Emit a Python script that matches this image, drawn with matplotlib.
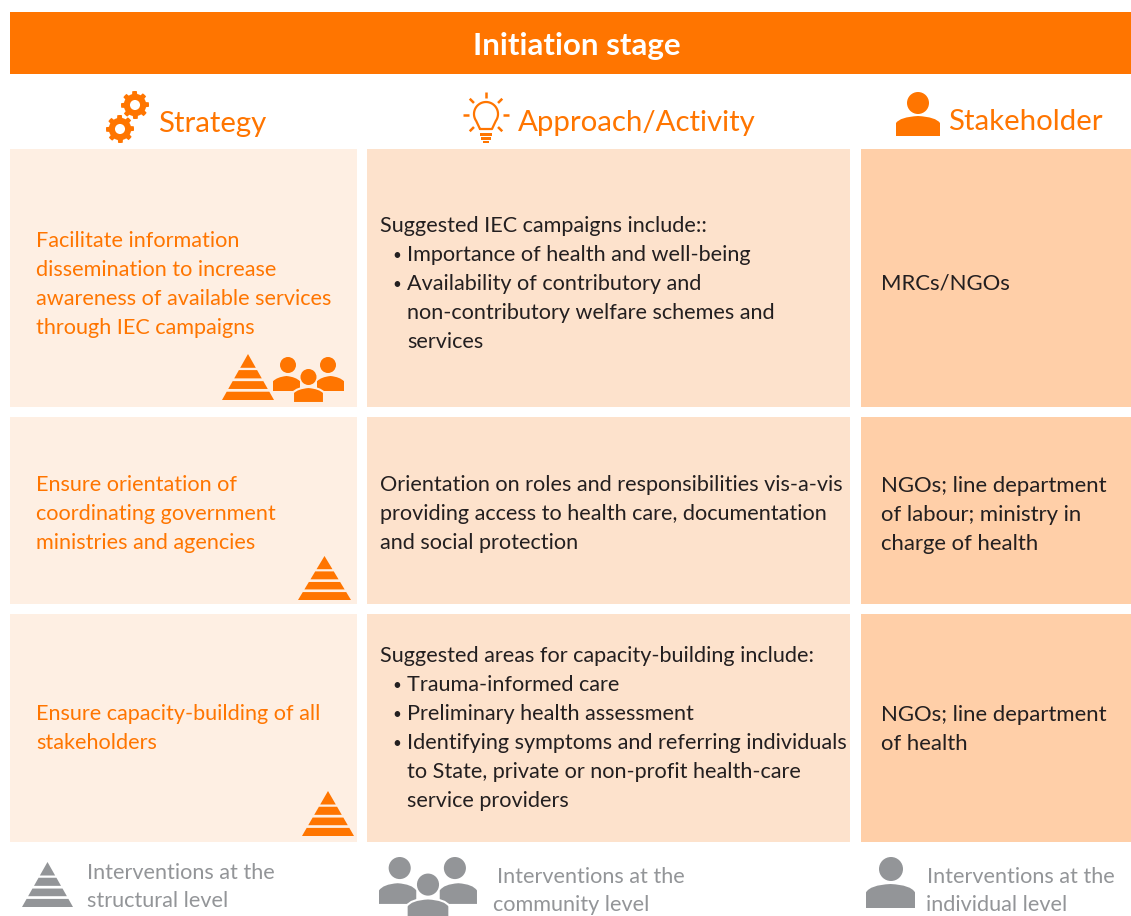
import numpy as np
import matplotlib
matplotlib.use('Agg')
import matplotlib.pyplot as plt
from matplotlib.patches import Rectangle, Circle, Polygon, PathPatch
from matplotlib.path import Path

ORANGE = '#FF7500'
GREY = '#939598'
DARK = '#231F20'
CELL_COLORS = ['#FEEFE3', '#FDE2CC', '#FFCFA8']

title = 'Initiation stage'
headers = ['Strategy', 'Approach/Activity', 'Stakeholder']

strategy_text = [
    ['Facilitate information', 'dissemination to increase', 'awareness of available services', 'through IEC campaigns'],
    ['Ensure orientation of', 'coordinating government', 'ministries and agencies'],
    ['Ensure capacity-building of all', 'stakeholders'],
]
# (texto, tiene bullet, sangria)
approach_text = [
    [('Suggested IEC campaigns include::', 0), ('Importance of health and well-being', 1),
     ('Availability of contributory and', 1), ('non-contributory welfare schemes and', 2), ('services', 2)],
    [('Orientation on roles and responsibilities vis-a-vis', 0),
     ('providing access to health care, documentation', 0), ('and social protection', 0)],
    [('Suggested areas for capacity-building include:', 0), ('Trauma-informed care', 1),
     ('Preliminary health assessment', 1), ('Identifying symptoms and referring individuals', 1),
     ('to State, private or non-profit health-care', 2), ('service providers', 2)],
]
stakeholder_text = [
    ['MRCs/NGOs'],
    ['NGOs; line department', 'of labour; ministry in', 'charge of health'],
    ['NGOs; line department', 'of health'],
]
legend_text = [
    ['Interventions at the', 'structural level'],
    ['Interventions at the', 'community level'],
    ['Interventions at the', 'individual level'],
]

col_x = [(10, 357), (367, 850), (861, 1131)]
row_y = [(149, 407), (417, 604), (614, 842)]
first_baseline = [(247, 232, 290), (491, 491, 492), (720, 662, 721)]
LINE = 29

plt.rcParams['font.family'] = ['Lato', 'DejaVu Sans']

fig = plt.figure(figsize=(11.31, 9.16), dpi=100)
ax = fig.add_axes([0, 0, 1, 1])
ax.set_xlim(0, 1131)
ax.set_ylim(916, 0)
ax.axis('off')


def pyramid(x0, y0, w, h, color):
    # bandas del triangulo, en fraccion de la altura
    bands = [(0, 0.30), (0.35, 0.53), (0.59, 0.76), (0.82, 1)]
    cx = x0 + w / 2
    for a, b in bands:
        ya, yb = y0 + a * h, y0 + b * h
        ha, hb = a * w / 2, b * w / 2
        ax.add_patch(Polygon([(cx - ha, ya), (cx + ha, ya), (cx + hb, yb), (cx - hb, yb)], fc=color, ec='none'))


def person(cx, cy, r, x0, x1, top, bottom, color, edge=None):
    # cuerpo con hombros redondeados y cabeza
    mid = (x0 + x1) / 2
    sh = top + (bottom - top) * 0.35
    verts = [(x0, bottom), (x0, sh), (x0 + 4, top + 1), (mid, top), (x1 - 4, top + 1), (x1, sh), (x1, bottom), (x0, bottom)]
    codes = [Path.MOVETO, Path.LINETO, Path.CURVE3, Path.CURVE3, Path.CURVE3, Path.CURVE3, Path.LINETO, Path.CLOSEPOLY]
    ec = edge if edge else 'none'
    ax.add_patch(PathPatch(Path(verts, codes), fc=color, ec=ec, lw=1.5 if edge else 0))
    ax.add_patch(Circle((cx, cy), r, fc=color, ec='none'))


def gear(cx, cy, r, color):
    ang = np.linspace(0, 2 * np.pi, 97)[:-1]
    rad = np.where(((ang + 0.2) % (2 * np.pi / 8)) < (2 * np.pi / 16), r, r * 0.8)
    ax.add_patch(Polygon(np.c_[cx + rad * np.cos(ang), cy + rad * np.sin(ang)], fc=color, ec='none'))
    ax.add_patch(Circle((cx, cy), r * 0.36, fc='white', ec='none'))


def bulb(cx, cy, color):
    # arco por arriba, de abajo-izquierda a abajo-derecha
    t = np.radians(np.linspace(215, -35, 60))
    xs = list(cx + 12 * np.cos(t))
    ys = list(cy - 1 - 12 * np.sin(t))
    xs = [cx - 6] + xs + [cx + 6, cx - 6]
    ys = [cy + 14] + ys + [cy + 14, cy + 14]
    ax.plot(xs, ys, color=color, lw=1.6, solid_capstyle='round')
    for a in [0, 45, 90, 135, 180, 225, 315]:
        c, s = np.cos(np.radians(a)), np.sin(np.radians(a))
        ax.plot([cx + 17 * c, cx + 23 * c], [cy - 17 * s, cy - 23 * s], color=color, lw=1.8, solid_capstyle='butt')
    ax.add_patch(Rectangle((cx - 6, cy + 18), 12, 2.5, fc=color, ec='none'))
    ax.add_patch(Rectangle((cx - 5, cy + 22), 10, 2.5, fc=color, ec='none'))
    ax.add_patch(Rectangle((cx - 3, cy + 25.5), 6, 2, fc=color, ec='none'))


def people(x0, scale, y0, color, edge):
    # tres personas, coordenadas relativas al icono
    person(x0 + 15 * scale, y0 + 8 * scale, 8 * scale, x0, x0 + 27 * scale, y0 + 19 * scale, y0 + 34 * scale, color)
    person(x0 + 55 * scale, y0 + 8 * scale, 8 * scale, x0 + 44 * scale, x0 + 71 * scale, y0 + 19 * scale, y0 + 34 * scale, color)
    person(x0 + 35.5 * scale, y0 + 20 * scale, 8 * scale, x0 + 20 * scale, x0 + 51 * scale, y0 + 30 * scale, y0 + 46 * scale, color, edge)


# barra de titulo
ax.add_patch(Rectangle((10, 12), 1121, 62, fc=ORANGE, ec='none'))
ax.text(577, 55, title, color='white', fontsize=22.5, fontweight='bold', ha='center', va='baseline')

# encabezados
ax.text(158, 132, headers[0], color=ORANGE, fontsize=21.2, va='baseline')
ax.text(518, 131, headers[1], color=ORANGE, fontsize=21.2, va='baseline')
ax.text(948, 130, headers[2], color=ORANGE, fontsize=21.2, va='baseline')
gear(135, 105, 14, ORANGE)
gear(120, 129, 14, ORANGE)
bulb(486, 115, ORANGE)
person(918, 103, 11, 896, 940, 116, 136, ORANGE)

# celdas
for (y0, y1) in row_y:
    for (x0, x1), c in zip(col_x, CELL_COLORS):
        ax.add_patch(Rectangle((x0, y0), x1 - x0, y1 - y0, fc=c, ec='none'))

FS = 15.6
for i in range(3):
    base_s, base_a, base_h = first_baseline[i]
    for j, line in enumerate(strategy_text[i]):
        ax.text(36, base_s + j * LINE, line, color=ORANGE, fontsize=FS, va='baseline')
    for j, (line, kind) in enumerate(approach_text[i]):
        y = base_a + j * LINE
        if kind == 1:
            ax.text(392, y - 1, '•', color=DARK, fontsize=11, va='baseline')
        ax.text(407 if kind else 380, y, line, color=DARK, fontsize=FS, va='baseline')
    for j, line in enumerate(stakeholder_text[i]):
        ax.text(881, base_h + j * LINE, line, color=DARK, fontsize=15.9, va='baseline')

# iconos de nivel en la primera columna
pyramid(222, 354, 52, 46, ORANGE)
people(273, 1, 357, ORANGE, CELL_COLORS[0])
pyramid(298, 556, 53, 44, ORANGE)
pyramid(302, 791, 52, 45, ORANGE)

# leyenda
pyramid(22, 862, 51, 45, GREY)
people(379, 1.38, 857, GREY, 'white')
person(891, 869, 12, 866, 915, 884, 908, GREY)
for (x0, x1, y, lines) in [(87, 87, 879, legend_text[0]), (497, 493, 883, legend_text[1]), (927, 926, 883, legend_text[2])]:
    ax.text(x0, y, lines[0], color=GREY, fontsize=FS, va='baseline')
    ax.text(x1, y + 28, lines[1], color=GREY, fontsize=FS, va='baseline')

fig.savefig('out.png', dpi=100)
